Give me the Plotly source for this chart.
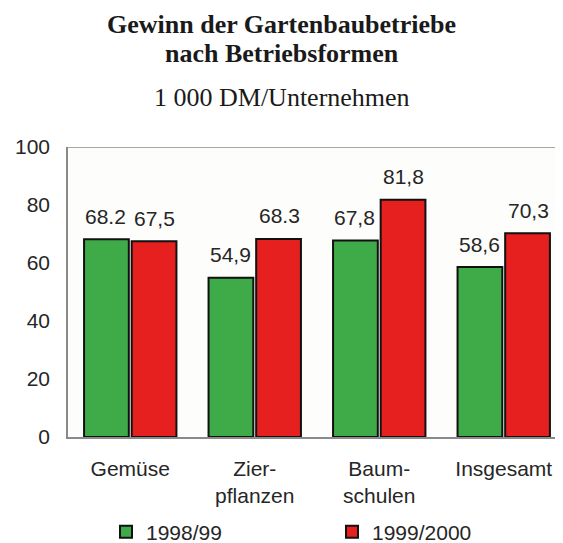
import plotly.graph_objects as go

categories = ["Gemüse", "Zier-<br>pflanzen", "Baum-<br>schulen", "Insgesamt"]
values_9899 = [68.2, 54.9, 67.8, 58.6]
values_9900 = [67.5, 68.3, 81.8, 70.3]
labels_9899 = ["68.2", "54,9", "67,8", "58,6"]
labels_9900 = ["67,5", "68.3", "81,8", "70,3"]
series_names = ["1998/99", "1999/2000"]
y_ticks = [0, 20, 40, 60, 80, 100]
title_lines = ["Gewinn der Gartenbaubetriebe", "nach Betriebsformen"]
subtitle = "1 000 DM/Unternehmen"

GREEN = "#3faa48"
RED = "#e5201f"
TEXT = "#262626"
SANS = "Liberation Sans, Arial, sans-serif"
SERIF = "Liberation Serif, Times New Roman, serif"

fig = go.Figure()
for name, vals, col in [(series_names[0], values_9899, GREEN),
                        (series_names[1], values_9900, RED)]:
    fig.add_trace(go.Bar(
        x=categories, y=vals, name=name,
        marker=dict(color=col, line=dict(color="#111111", width=2)),
        hoverinfo="x+y",
    ))

# value labels above each bar
for shift, vals, labels in [(-24.5, values_9899, labels_9899),
                            (24.5, values_9900, labels_9900)]:
    for cat, v, lab in zip(categories, vals, labels):
        fig.add_annotation(
            x=cat, y=v, text=lab, showarrow=False,
            xshift=shift, yshift=23, yanchor="middle",
            font=dict(family=SANS, size=21, color=TEXT),
        )

# title lines and unit line
for txt, ypos in [("<b>" + title_lines[0] + "</b>", 1.424),
                  ("<b>" + title_lines[1] + "</b>", 1.324),
                  (subtitle, 1.1724)]:
    fig.add_annotation(
        text=txt, showarrow=False,
        xref="paper", yref="paper", x=0.432, y=ypos,
        xanchor="center", yanchor="middle",
        font=dict(family=SERIF, size=26, color="#1a1a1a"),
    )

# top edge of the frame
fig.add_shape(type="line", xref="paper", yref="y", x0=0, x1=1, y0=100, y1=100,
              line=dict(color="#8a8a8a", width=1.5))

fig.update_layout(
    width=555, height=535,
    margin=dict(l=60, r=0, t=139, b=106),
    paper_bgcolor="white", plot_bgcolor="#fdfdfc",
    barmode="group", bargap=0.235, bargroupgap=0.06,
    xaxis=dict(
        range=[-0.5, 3.476], showgrid=False, zeroline=False,
        showline=True, linecolor="#8a8a8a", linewidth=1.5,
        ticks="outside", ticklen=12, tickcolor="rgba(0,0,0,0)",
        tickfont=dict(family=SANS, size=21, color=TEXT),
    ),
    yaxis=dict(
        range=[0, 100], tickvals=y_ticks, showgrid=False, zeroline=False,
        showline=True, linecolor="#8a8a8a", linewidth=1.5,
        ticks="outside", ticklen=12, tickcolor="rgba(0,0,0,0)",
        tickfont=dict(family=SANS, size=21, color=TEXT),
    ),
    showlegend=True,
    legend=dict(
        orientation="h", xref="container", yref="container",
        x=98 / 555, y=11 / 535, xanchor="left", yanchor="middle",
        entrywidth=181, font=dict(family=SANS, size=21, color=TEXT),
        bgcolor="rgba(0,0,0,0)",
    ),
)

fig.write_html("out.html")
